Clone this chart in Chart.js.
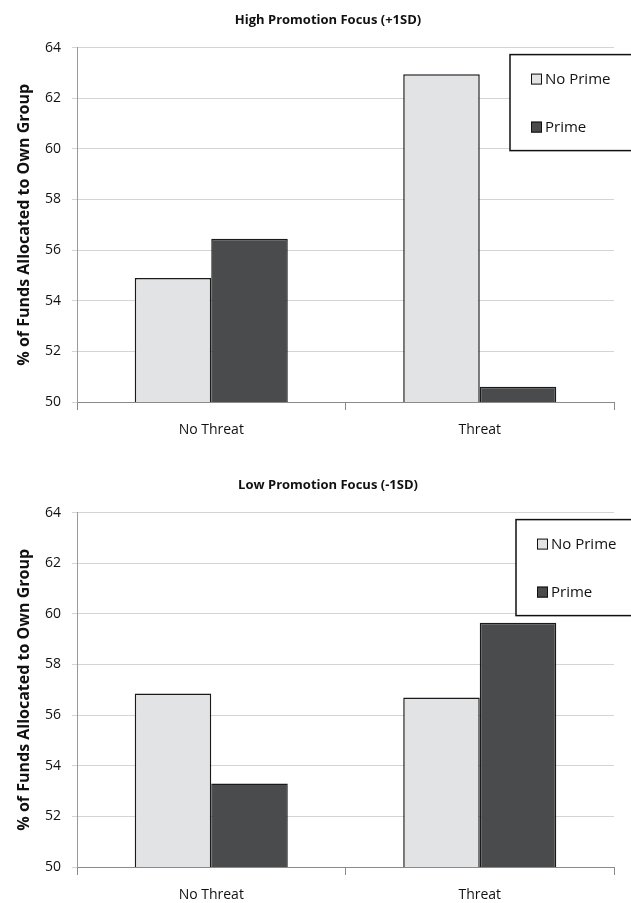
<!DOCTYPE html>
<html>
<head>
<meta charset="utf-8">
<script src="https://cdn.jsdelivr.net/npm/chart.js@4.4.0/dist/chart.umd.min.js"></script>
<style>
  html, body { margin: 0; padding: 0; background: #fff; }
  #wrap { position: relative; width: 631px; height: 903px; overflow: hidden; }
  .panel { position: absolute; left: 0; width: 631px; height: 438px; }
</style>
</head>
<body>
<div id="wrap">
  <div class="panel" style="top:0"><canvas id="highChart"></canvas></div>
  <div class="panel" style="top:465px"><canvas id="lowChart"></canvas></div>
</div>
<script>
// ================= DATA =================
const categories = ["No Threat", "Threat"];
const seriesNames = ["No Prime", "Prime"];

const highNoPrime = [54.9, 62.95];
const highPrime = [56.45, 50.6];

const lowNoPrime = [56.85, 56.7];
const lowPrime = [53.3, 59.65];

const yTicks = [50, 52, 54, 56, 58, 60, 62, 64];

const FONT = "'Open Sans', 'Liberation Sans', sans-serif";
const LIGHT = "#e2e3e5";
const DARK = "#4a4b4d";

// legend box sits inside the plot, overlapping the gridlines like the original
const boxLegend = {
  id: "boxLegend",
  afterDraw(chart, args, opts) {
    const ctx = chart.ctx;
    const area = chart.chartArea;
    const x = area.left + opts.dx;
    const y = area.top + opts.dy;
    ctx.save();
    ctx.fillStyle = "#fff";
    ctx.fillRect(x, y, 140, 96);
    ctx.strokeStyle = "#111";
    ctx.lineWidth = 1.5;
    ctx.strokeRect(x, y, 140, 96);
    ctx.font = "15px " + FONT;
    ctx.textBaseline = "middle";
    chart.data.datasets.forEach((ds, i) => {
      const cy = y + 24 + i * 48;
      ctx.fillStyle = ds.backgroundColor;
      ctx.fillRect(x + 21, cy - 5, 11, 11);
      ctx.strokeStyle = "#111";
      ctx.lineWidth = 1;
      ctx.strokeRect(x + 21.5, cy - 4.5, 10, 10);
      ctx.fillStyle = "#111";
      ctx.fillText(ds.label, x + 35, cy + 1);
    });
    ctx.restore();
  }
};

function makeChart(id, title, noPrime, prime, legendDx) {
  const ctx = document.getElementById(id).getContext("2d");
  return new Chart(ctx, {
    type: "bar",
    data: {
      labels: categories,
      datasets: [
        { label: seriesNames[0], data: noPrime, backgroundColor: LIGHT, borderColor: "#1a1a1a", borderWidth: 1.5 },
        { label: seriesNames[1], data: prime, backgroundColor: DARK, borderColor: "#1a1a1a", borderWidth: 1.5 }
      ]
    },
    options: {
      responsive: true,
      maintainAspectRatio: false,
      animation: false,
      layout: { padding: { left: 42, right: 17, top: 0, bottom: 0 } },
      datasets: { bar: { barPercentage: 1, categoryPercentage: 0.57 } },
      plugins: {
        legend: { display: false },
        tooltip: { enabled: false },
        title: {
          display: true,
          text: title,
          color: "#111",
          font: { family: FONT, size: 13, weight: "bold" },
          padding: { top: 12, bottom: 20 }
        },
        boxLegend: { dx: legendDx, dy: 7 }
      },
      scales: {
        x: {
          grid: { display: true, drawOnChartArea: false, tickLength: 8, color: "#8a8a8a" },
          border: { color: "#8a8a8a", width: 1 },
          ticks: { color: "#111", padding: 12, font: { family: FONT, size: 14 } },
          afterFit: s => { s.height = 36; }
        },
        y: {
          min: 50,
          max: 64,
          afterBuildTicks: s => { s.ticks = yTicks.map(v => ({ value: v })); },
          grid: { color: "#d4d4d4", tickLength: 5 },
          border: { color: "#9a9a9a", width: 1 },
          ticks: { color: "#111", padding: 11, font: { family: FONT, size: 14 } },
          title: {
            display: true,
            text: "% of Funds Allocated to Own Group",
            color: "#111",
            font: { family: FONT, size: 16, weight: "bold" },
            padding: { top: -27.6, bottom: 0 }
          },
          afterFit: s => { s.width = 35; }
        }
      }
    },
    plugins: [boxLegend]
  });
}

makeChart("highChart", "High Promotion Focus (+1SD)", highNoPrime, highPrime, 433);
makeChart("lowChart", "Low Promotion Focus (-1SD)", lowNoPrime, lowPrime, 439);
</script>
</body>
</html>
